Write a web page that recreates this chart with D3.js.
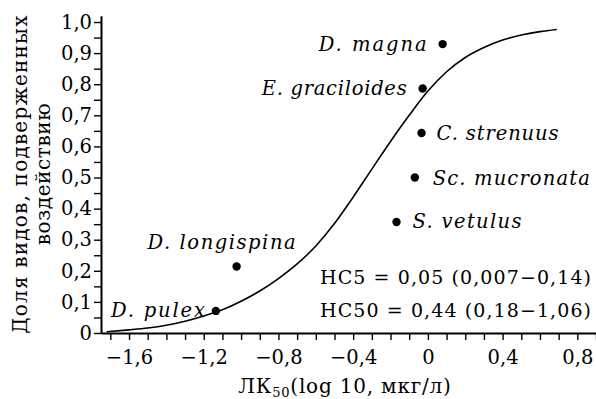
<!DOCTYPE html>
<html>
<head>
<meta charset="utf-8">
<script src="https://cdn.jsdelivr.net/npm/d3@7"></script>
<style>
  html, body { margin: 0; padding: 0; background: #fff; }
  svg { display: block; }
</style>
</head>
<body>
<div id="chart"></div>
<script>
// species points (log10 LC50, fraction of species affected)
const speciesNames = ["D. pulex", "D. longispina", "S. vetulus", "Sc. mucronata", "C. strenuus", "E. graciloides", "D. magna"];
const speciesLogLC50 = [-1.135, -1.024, -0.168, -0.07, -0.034, -0.028, 0.079];
const speciesFraction = [0.071, 0.214, 0.357, 0.5, 0.643, 0.786, 0.929];

// fitted distribution curve
const curveLogConc = [-1.72, -1.6, -1.5, -1.4, -1.3, -1.2, -1.1, -1.0, -0.9, -0.8, -0.7, -0.6, -0.5, -0.4, -0.3, -0.2, -0.1, 0, 0.1, 0.2, 0.3, 0.4, 0.5, 0.6, 0.69];
const curveFraction = [0.004, 0.010, 0.016, 0.025, 0.038, 0.055, 0.075, 0.102, 0.135, 0.175, 0.222, 0.280, 0.352, 0.437, 0.527, 0.616, 0.700, 0.778, 0.840, 0.886, 0.918, 0.942, 0.958, 0.969, 0.976];

const xTickValues = [-1.7, -1.6, -1.5, -1.4, -1.3, -1.2, -1.1, -1.0, -0.9, -0.8, -0.7, -0.6, -0.5, -0.4, -0.3, -0.2, -0.1, 0, 0.1, 0.2, 0.3, 0.4, 0.5, 0.6, 0.7, 0.8, 0.9];
const xTickLabels = [-1.6, -1.2, -0.8, -0.4, 0, 0.4, 0.8];
const yTickValues = [0, 0.05, 0.1, 0.15, 0.2, 0.25, 0.3, 0.35, 0.4, 0.45, 0.5, 0.55, 0.6, 0.65, 0.7, 0.75, 0.8, 0.85, 0.9, 0.95, 1.0];
const yTickLabels = [0, 0.1, 0.2, 0.3, 0.4, 0.5, 0.6, 0.7, 0.8, 0.9, 1.0];

const hcLines = ["HC5 = 0,05 (0,007\u22120,14)", "HC50 = 0,44 (0,18\u22121,06)"];
const yTitleLines = ["Доля видов, подверженных", "воздействию"];

const width = 596, height = 399;
const serif = "'DejaVu Serif', serif";

const svg = d3.select("#chart").append("svg")
  .attr("width", width)
  .attr("height", height);

const x = d3.scaleLinear().domain([-1.75, 0.9]).range([101, 596]);
const y = d3.scaleLinear().domain([0, 1.02]).range([333, 15.8]);

const fmt = (v, decimals) => {
  if (Math.abs(v) < 1e-9) return "0";
  return v.toFixed(decimals).replace(".", ",").replace("-", "\u2212");
};
const isLabel = (list, v) => list.some(t => Math.abs(t - v) < 1e-9);

// x axis
const xAxis = svg.append("g")
  .attr("transform", `translate(0,${y(0)})`)
  .call(d3.axisBottom(x)
    .tickValues(xTickValues)
    .tickSize(7)
    .tickSizeOuter(0)
    .tickPadding(10)
    .tickFormat(d => isLabel(xTickLabels, d) ? fmt(d, 1) : ""));

// y axis
const yAxis = svg.append("g")
  .attr("transform", `translate(${x(-1.75)},0)`)
  .call(d3.axisLeft(y)
    .tickValues(yTickValues)
    .tickSize(7)
    .tickSizeOuter(0)
    .tickPadding(2)
    .tickFormat(d => isLabel(yTickLabels, d) ? fmt(d, 1) : ""));

[xAxis, yAxis].forEach(g => {
  g.select(".domain").attr("stroke", "#000").attr("stroke-width", 2);
  g.selectAll(".tick line").attr("stroke", "#000").attr("stroke-width", 1.4);
  g.selectAll(".tick text")
    .attr("fill", "#000")
    .attr("font-family", serif)
    .attr("font-size", 19.5);
});

// curve
const line = d3.line()
  .x(d => x(d[0]))
  .y(d => y(d[1]))
  .curve(d3.curveMonotoneX);

svg.append("path")
  .datum(d3.zip(curveLogConc, curveFraction))
  .attr("d", line)
  .attr("fill", "none")
  .attr("stroke", "#000")
  .attr("stroke-width", 1.6);

// points
const points = speciesNames.map((name, i) => ({ name, lx: speciesLogLC50[i], fr: speciesFraction[i] }));

svg.selectAll(".dot")
  .data(points)
  .enter()
  .append("circle")
  .attr("class", "dot")
  .attr("cx", d => x(d.lx))
  .attr("cy", d => y(d.fr))
  .attr("r", 4.2)
  .attr("fill", "#000");

// label placement next to each dot
const labelLayout = {
  "D. pulex":       { anchor: "end",   dx: -11, dy: 0,   len: 94 },
  "D. longispina":  { anchor: "start", dx: -89, dy: -24, len: 148 },
  "S. vetulus":     { anchor: "start", dx: 16,  dy: 0,   len: 109 },
  "Sc. mucronata":  { anchor: "start", dx: 18,  dy: 1,   len: 157 },
  "C. strenuus":    { anchor: "start", dx: 15,  dy: 0,   len: 122 },
  "E. graciloides": { anchor: "end",   dx: -16, dy: 0,   len: 145 },
  "D. magna":       { anchor: "end",   dx: -16, dy: 0,   len: 108 }
};

svg.selectAll(".species")
  .data(points)
  .enter()
  .append("text")
  .attr("class", "species")
  .attr("x", d => x(d.lx) + labelLayout[d.name].dx)
  .attr("y", d => y(d.fr) + labelLayout[d.name].dy + 6.5)
  .attr("text-anchor", d => labelLayout[d.name].anchor)
  .attr("textLength", d => labelLayout[d.name].len)
  .attr("lengthAdjust", "spacing")
  .attr("font-family", serif)
  .attr("font-style", "italic")
  .attr("font-size", 19.5)
  .attr("fill", "#000")
  .text(d => d.name);

// HC annotations
svg.selectAll(".hc")
  .data(hcLines)
  .enter()
  .append("text")
  .attr("class", "hc")
  .attr("x", 320)
  .attr("y", (d, i) => 284 + i * 33)
  .attr("textLength", 271)
  .attr("lengthAdjust", "spacing")
  .attr("font-family", serif)
  .attr("font-size", 19)
  .attr("fill", "#000")
  .text(d => d);

// axis titles
const xTitle = svg.append("text")
  .attr("x", 345)
  .attr("y", 393)
  .attr("text-anchor", "middle")
  .attr("font-family", serif)
  .attr("font-size", 20)
  .attr("letter-spacing", 0.8)
  .attr("fill", "#000");
xTitle.append("tspan").text("ЛК");
xTitle.append("tspan").attr("font-size", 13).attr("dy", 4).text("50");
xTitle.append("tspan").attr("dy", -4).text("(log 10, мкг/л)");

svg.selectAll(".ytitle")
  .data(yTitleLines)
  .enter()
  .append("text")
  .attr("class", "ytitle")
  .attr("transform", (d, i) => `translate(${27 + i * 23},174) rotate(-90)`)
  .attr("text-anchor", "middle")
  .attr("font-family", serif)
  .attr("font-size", 20)
  .attr("letter-spacing", (d, i) => i === 0 ? 1.2 : 0.6)
  .attr("fill", "#000")
  .text(d => d);
</script>
</body>
</html>
